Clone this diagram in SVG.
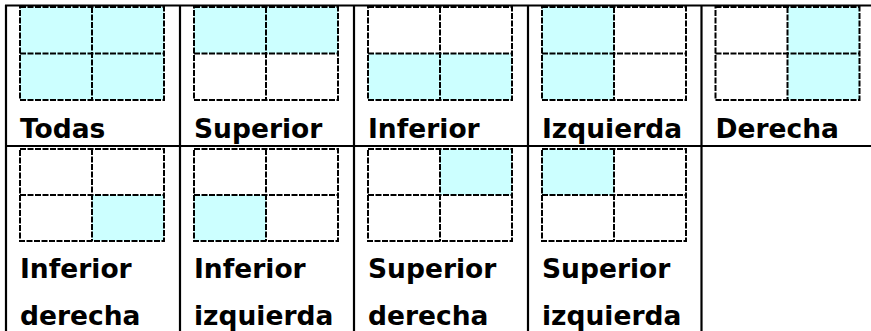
<svg xmlns="http://www.w3.org/2000/svg" width="871" height="331" viewBox="0 0 871 331">
<style>
.bd{stroke:#000;stroke-width:2.2;fill:none}
.on{fill:#ccffff}
.g{fill:none;stroke:#000;stroke-width:2;stroke-dasharray:6 1.5}
.t{font-family:"DejaVu Sans",Verdana,sans-serif;font-weight:bold;font-size:26.5px;fill:#000}
</style>
<rect width="871" height="331" fill="#fff"/>
<g id="table-lines">
<line class="bd" x1="5" y1="5.5" x2="871" y2="5.5"/>
<line class="bd" x1="5" y1="146" x2="871" y2="146"/>
<line class="bd" x1="6" y1="5" x2="6" y2="331"/>
<line class="bd" x1="180" y1="5" x2="180" y2="331"/>
<line class="bd" x1="354" y1="5" x2="354" y2="331"/>
<line class="bd" x1="528" y1="5" x2="528" y2="331"/>
<line class="bd" x1="701.5" y1="5" x2="701.5" y2="331"/>
</g>
<g id="todas">
<rect class="on" x="20" y="7" width="144" height="93"/>
<path class="g" d="M20 7H164V100H20Z M92 7V100 M20 53.5H164"/>
<text class="t" x="20" y="138">Todas</text>
</g>
<g id="superior">
<rect class="on" x="194" y="7" width="144" height="46.5"/>
<path class="g" d="M194 7H338V100H194Z M266 7V100 M194 53.5H338"/>
<text class="t" x="194" y="138">Superior</text>
</g>
<g id="inferior">
<rect class="on" x="368" y="53.5" width="144" height="46.5"/>
<path class="g" d="M368 7H512V100H368Z M440 7V100 M368 53.5H512"/>
<text class="t" x="368" y="138">Inferior</text>
</g>
<g id="izquierda">
<rect class="on" x="542" y="7" width="72" height="93"/>
<path class="g" d="M542 7H686V100H542Z M614 7V100 M542 53.5H686"/>
<text class="t" x="542" y="138">Izquierda</text>
</g>
<g id="derecha">
<rect class="on" x="787.5" y="7" width="72" height="93"/>
<path class="g" d="M715.5 7H859.5V100H715.5Z M787.5 7V100 M715.5 53.5H859.5"/>
<text class="t" x="715.5" y="138">Derecha</text>
</g>
<g id="inferior-derecha">
<rect class="on" x="92" y="195" width="72" height="46"/>
<path class="g" d="M20 149H164V241H20Z M92 149V241 M20 195H164"/>
<text class="t" x="20" y="278">Inferior</text>
<text class="t" x="20" y="325">derecha</text>
</g>
<g id="inferior-izquierda">
<rect class="on" x="194" y="195" width="72" height="46"/>
<path class="g" d="M194 149H338V241H194Z M266 149V241 M194 195H338"/>
<text class="t" x="194" y="278">Inferior</text>
<text class="t" x="194" y="325">izquierda</text>
</g>
<g id="superior-derecha">
<rect class="on" x="440" y="149" width="72" height="46"/>
<path class="g" d="M368 149H512V241H368Z M440 149V241 M368 195H512"/>
<text class="t" x="368" y="278">Superior</text>
<text class="t" x="368" y="325">derecha</text>
</g>
<g id="superior-izquierda">
<rect class="on" x="542" y="149" width="72" height="46"/>
<path class="g" d="M542 149H686V241H542Z M614 149V241 M542 195H686"/>
<text class="t" x="542" y="278">Superior</text>
<text class="t" x="542" y="325">izquierda</text>
</g>
</svg>
